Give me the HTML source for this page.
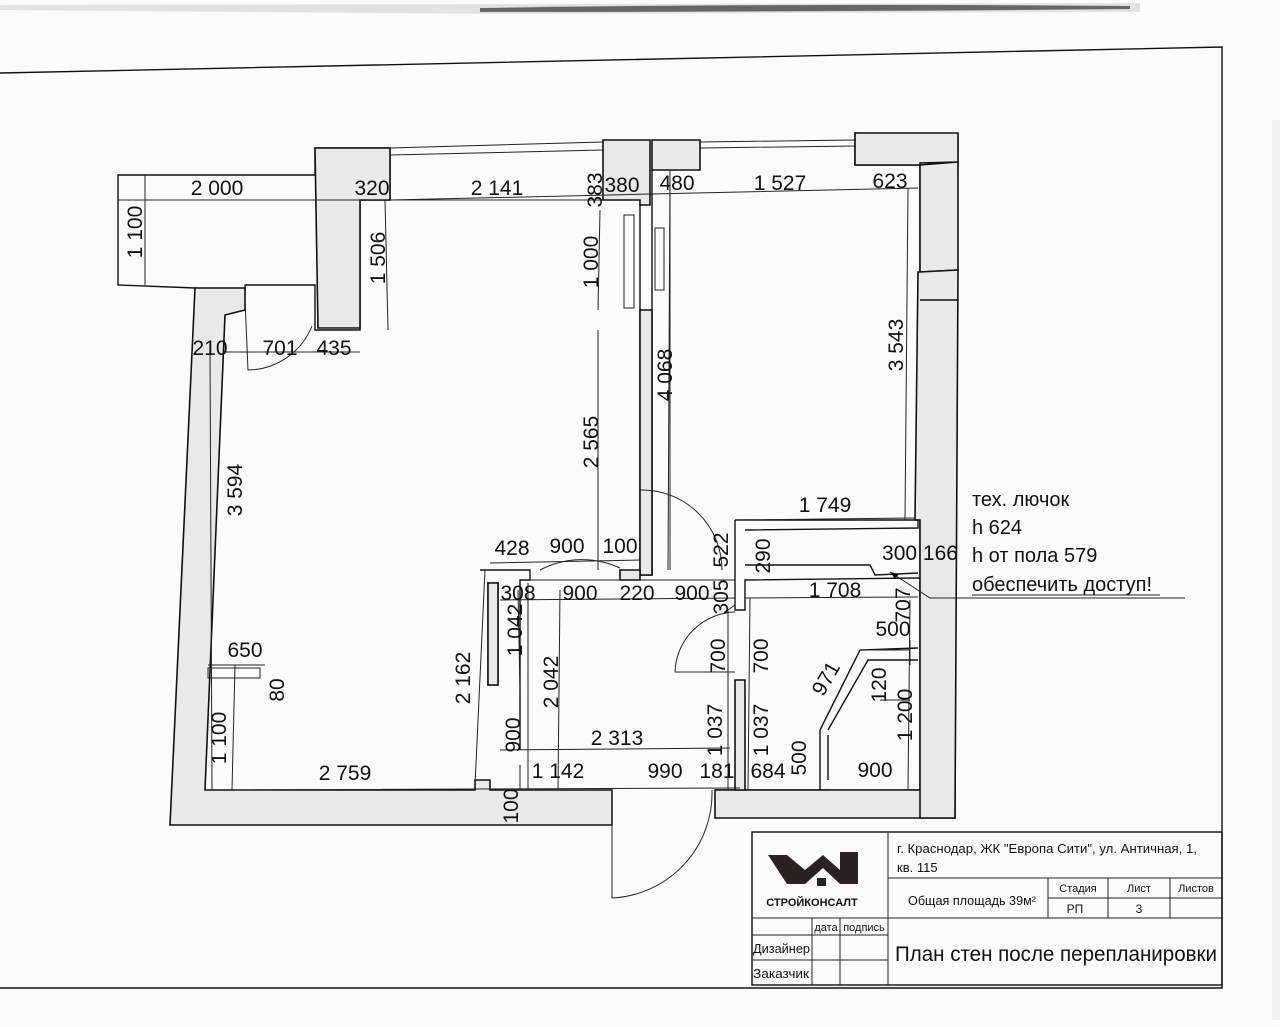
<!DOCTYPE html>
<html><head><meta charset="utf-8"><style>
html,body{margin:0;padding:0;background:#fff;}
svg{display:block}
text{font-family:"Liberation Sans Narrow","Liberation Sans","DejaVu Sans",sans-serif;fill:#111;}
.d{font-size:21px;text-anchor:middle}
.w{fill:#e9e9e9;stroke:#111;stroke-width:1.6}
.l{stroke:#111;stroke-width:1.4;fill:none}
.t{stroke:#222;stroke-width:1;fill:none}
</style></head><body>
<svg width="1280" height="1027" viewBox="0 0 1280 1027" xmlns="http://www.w3.org/2000/svg">
<rect width="1280" height="1027" fill="#fbfbfb"/>
<path d="M0 5 L1140 3 L1140 12 L500 14 L0 10Z" fill="#e2e2e2"/>
<path d="M480 8 Q800 3 1130 6 L1130 9 Q800 12 480 12Z" fill="#666"/>
<rect x="1272" y="120" width="8" height="900" fill="#f0f0f0"/>
<path d="M0 73 L1222 47 L1222 988 L0 988" class="l" stroke-width="1.8"/>

<path d="M118 175 L315 175 L315 148 L390 148 L390 200 L360 200 L360 330 L315 330 L315 285 L245 285 L245 290 L195 288 L118 285 Z" fill="none" class="l"/>
<path d="M315 148 L390 148 L390 200 L360 200 L360 328 L318 328 Z" class="w"/>
<path d="M195 288 L245 288 L245 310 L225 315 L205 790 L475 790 L475 780 L490 780 L490 790 L612 790 L612 825 L170 825 Z" class="w"/>
<path d="M715 790 L955 790 L958 135 L855 133 L855 165 L920 165 L920 790 L930 790" class="l"/>
<path d="M715 790 L955 790 L955 818 L715 818 Z" class="w"/>
<path d="M920 165 L958 162 L958 270 L920 272 Z M855 133 L958 133 L958 162 L920 163 L920 165 L855 165Z" class="w"/>
<path d="M920 272 L958 270 L955 818 L920 818 L920 520 L915 520 L918 272Z" class="w"/>
<line x1="920" y1="300" x2="958" y2="300" class="l"/>
<path d="M390 148 L603 142 M390 155 L603 150 M700 142 L855 140 M700 148 L855 146" class="t"/>
<path d="M603 140 L650 140 L650 205 L640 205 L640 200 L603 200Z" class="w"/>
<path d="M652 140 L700 140 L700 170 L652 170Z" class="w"/>
<path d="M640 205 L640 575 L652 575 L652 170" class="l"/>
<path d="M624 215 L634 215 L634 308 L624 308Z M655 228 L664 228 L664 290 L655 290Z" class="t"/>
<path d="M640 310 L652 310 L652 575 L640 575Z" class="w"/>
<path d="M598 330 L598 570 M670 170 L670 570" class="t"/>
<path d="M480 570 L530 570 L530 580 L520 580 L520 750 M498 583 L498 685 L488 685 L488 583 Z" class="l"/>
<path d="M488 583 L498 583 L498 685 L488 685Z" class="w"/>
<path d="M530 580 L735 580 L735 605 L728 610 L728 790 M528 583 L528 790" class="t"/>
<path d="M620 570 L640 570 L640 580 L620 580Z" class="w"/>
<path d="M735 520 L735 610 L745 610 L745 580 L920 578 M745 530 L918 528 L918 520 L735 520 M745 565 L870 565 L875 575 L918 573" class="l"/>
<path d="M735 680 L745 680 L745 790 L735 790Z" class="w"/>
<path d="M820 730 L860 650 L918 648 M828 730 L868 660 L918 660 M820 730 L820 790 M828 735 L828 780" class="l"/>
<path d="M620 568 A90 90 0 0 0 540 570 M640 490 A80 80 0 0 1 722 570" class="t"/>
<path d="M735 612 A62 62 0 0 0 675 672 L735 672" class="t"/>
<path d="M612 790 L612 898 A105 105 0 0 0 712 790" class="t"/>
<path d="M245 300 L248 370 A70 70 0 0 0 312 326" class="t"/>
<rect x="208" y="668" width="52" height="10" class="t"/>
<path d="M118 200 L600 200 M360 200 L603 200 M390 200 L918 188 M145 175 L145 285 M385 200 L388 330 M600 210 L598 310 M225 352 L360 352 M210 350 L212 790 M670 170 L668 570 M908 188 L905 520 M735 520 L915 518 M490 563 L640 560 M485 570 L475 785 M500 600 L735 598 M518 590 L520 690 M560 590 L558 790 M745 598 L918 597 M208 665 L265 665 M235 665 L232 790 M500 750 L730 748 M520 765 L520 790 M235 790 L740 788 M750 598 L748 790 M910 600 L908 790 M860 650 L910 650 M910 640 L910 665 M880 700 L910 700 M830 790 L910 790" class="t"/>
<path d="M1185 598 L930 598 L890 572" class="t"/>
<path d="M890 572 l9 2 l-4 5z" fill="#111"/>

<text class="d" x="217" y="195">2 000</text>
<text class="d" x="372" y="195">320</text>
<text class="d" x="497" y="195">2 141</text>
<text class="d" x="622" y="192">380</text>
<text class="d" x="677" y="190">480</text>
<text class="d" x="780" y="190">1 527</text>
<text class="d" x="890" y="188">623</text>
<text class="d" transform="translate(602,190) rotate(-90)">383</text>
<text class="d" transform="translate(142,232) rotate(-90)">1 100</text>
<text class="d" transform="translate(385,258) rotate(-90)">1 506</text>
<text class="d" transform="translate(598,262) rotate(-90)">1 000</text>
<text class="d" x="210" y="355">210</text>
<text class="d" x="280" y="355">701</text>
<text class="d" x="334" y="355">435</text>
<text class="d" transform="translate(903,345) rotate(-90)">3 543</text>
<text class="d" transform="translate(672,375) rotate(-90)">4 068</text>
<text class="d" transform="translate(598,442) rotate(-90)">2 565</text>
<text class="d" transform="translate(242,490) rotate(-90)">3 594</text>
<text class="d" x="825" y="512">1 749</text>
<text class="d" x="512" y="555">428</text>
<text class="d" x="567" y="553">900</text>
<text class="d" x="620" y="553">100</text>
<text class="d" transform="translate(728,550) rotate(-90)">522</text>
<text class="d" transform="translate(770,556) rotate(-90)">290</text>
<text class="d" x="920" y="560">300 166</text>
<text class="d" x="518" y="600">308</text>
<text class="d" x="580" y="600">900</text>
<text class="d" x="637" y="600">220</text>
<text class="d" x="692" y="600">900</text>
<text class="d" transform="translate(728,597) rotate(-90)">305</text>
<text class="d" x="835" y="597">1 708</text>
<text class="d" transform="translate(910,605) rotate(-90)">707</text>
<text class="d" transform="translate(522,630) rotate(-90)">1 042</text>
<text class="d" x="893" y="636">500</text>
<text class="d" transform="translate(725,656) rotate(-90)">700</text>
<text class="d" transform="translate(768,656) rotate(-90)">700</text>
<text class="d" transform="translate(832,682) rotate(-60)">971</text>
<text class="d" transform="translate(886,685) rotate(-90)">120</text>
<text class="d" transform="translate(470,678) rotate(-90)">2 162</text>
<text class="d" transform="translate(558,682) rotate(-90)">2 042</text>
<text class="d" x="245" y="657">650</text>
<text class="d" transform="translate(284,690) rotate(-90)">80</text>
<text class="d" transform="translate(912,715) rotate(-90)">1 200</text>
<text class="d" transform="translate(520,735) rotate(-90)">900</text>
<text class="d" x="617" y="745">2 313</text>
<text class="d" transform="translate(722,730) rotate(-90)">1 037</text>
<text class="d" transform="translate(768,730) rotate(-90)">1 037</text>
<text class="d" transform="translate(806,758) rotate(-90)">500</text>
<text class="d" transform="translate(226,738) rotate(-90)">1 100</text>
<text class="d" x="345" y="780">2 759</text>
<text class="d" x="558" y="778">1 142</text>
<text class="d" x="665" y="778">990</text>
<text class="d" x="717" y="778">181</text>
<text class="d" x="768" y="778">684</text>
<text class="d" x="875" y="777">900</text>
<text class="d" transform="translate(518,806) rotate(-90)">100</text>

<g style="font-size:20px">
<text x="972" y="506">тех. лючок</text>
<text x="972" y="534">h 624</text>
<text x="972" y="562">h от пола 579</text>
<text x="972" y="591">обеспечить доступ!</text>
</g>
<line x1="972" y1="595" x2="1160" y2="595" class="t"/>

<rect x="752" y="832" width="470" height="153" class="l" fill="#fff"/>
<path d="M888 832 L888 985 M888 878 L1222 878 M752 918 L1222 918 M1048 878 L1048 918 M1048 898 L1222 898 M1108 878 L1108 918 M1170 878 L1170 918 M752 935 L888 935 M752 960 L888 960 M812 918 L812 985 M840 918 L840 985" class="t"/>
<path d="M768 855 L787 855 L805 870 L823 855 L840 870 L840 852 L858 852 L858 884 L840 884 L823 868 L805 884 L787 884 Z" fill="#2a2222"/>
<rect x="817" y="878" width="9" height="8" fill="#2a2222"/>
<text x="812" y="906" style="font-size:11px;font-weight:bold" text-anchor="middle">СТРОЙКОНСАЛТ</text>
<text x="897" y="853" style="font-size:13px" textLength="300" lengthAdjust="spacingAndGlyphs">г. Краснодар, ЖК "Европа Сити", ул. Античная, 1,</text>
<text x="897" y="872" style="font-size:13px">кв. 115</text>
<text x="908" y="905" style="font-size:13px" textLength="128" lengthAdjust="spacingAndGlyphs">Общая площадь 39м²</text>
<text x="1078" y="892" style="font-size:11px" text-anchor="middle">Стадия</text>
<text x="1139" y="892" style="font-size:11px" text-anchor="middle">Лист</text>
<text x="1196" y="892" style="font-size:11px" text-anchor="middle">Листов</text>
<text x="1075" y="913" style="font-size:12px" text-anchor="middle">РП</text>
<text x="1139" y="913" style="font-size:12px" text-anchor="middle">3</text>
<text x="826" y="931" style="font-size:11px" text-anchor="middle">дата</text>
<text x="864" y="931" style="font-size:11px" text-anchor="middle">подпись</text>
<text x="753" y="953" style="font-size:13px" textLength="57" lengthAdjust="spacingAndGlyphs">Дизайнер</text>
<text x="753" y="978" style="font-size:13px" textLength="56" lengthAdjust="spacingAndGlyphs">Заказчик</text>
<text x="895" y="961" style="font-size:21px" textLength="322" lengthAdjust="spacingAndGlyphs">План стен после перепланировки</text>
</svg>
</body></html>
